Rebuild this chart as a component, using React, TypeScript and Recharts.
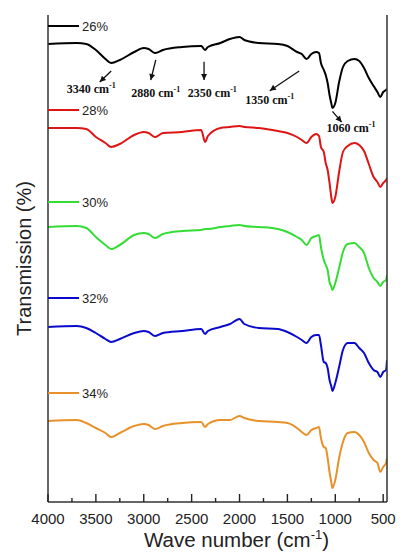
import React from "react";
import { LineChart, Line, XAxis, YAxis, ReferenceDot } from "recharts";

// wavenumber samples (cm-1)
const wavenumbers = [
  4000, 3700, 3600, 3500, 3400, 3340, 3250, 3100, 3000, 2950,
  2880, 2800, 2600, 2400, 2360, 2330, 2200, 2100, 2000, 1950,
  1800, 1600, 1500, 1400, 1350, 1300, 1250, 1200, 1170, 1150,
  1120, 1100, 1080, 1060, 1040, 1030, 1000, 960, 920, 870,
  800, 750, 700, 650, 600, 560, 530, 500, 470, 460,
];

// stacked transmission (offset, a.u.)
const t26 = [
  456, 457, 456, 450, 441, 437, 440, 448, 452, 451,
  447, 450, 453, 454, 450, 453, 457, 461, 463, 460,
  457, 456, 454, 448, 446, 441, 446, 448, 447, 437,
  430, 425, 417, 405, 396, 392, 397, 418, 433, 439,
  441, 439, 432, 422, 414, 408, 403, 408, 410, 411,
];
const t28 = [
  372, 372, 371, 363, 357, 353, 356, 365, 368, 367,
  363, 367, 368, 370, 358, 364, 372, 373, 374, 373,
  372, 369, 367, 363, 360, 357, 363, 366, 364, 353,
  348, 337, 330, 317, 302, 297, 303, 328, 348, 354,
  357, 355, 349, 336, 323, 318, 313, 317, 320, 322,
];
const t30 = [
  273, 274, 272, 263, 255, 251, 255, 265, 267, 266,
  262, 266, 269, 270, 271, 271, 273, 274, 275, 274,
  273, 271, 268, 263, 260, 255, 262, 264, 265, 253,
  240, 235, 230, 218, 213, 210, 217, 232, 248, 256,
  257, 253, 247, 232, 222, 218, 214, 218, 220, 225,
];
const t32 = [
  173, 174, 172, 167, 161, 158, 161, 167, 169, 168,
  164, 167, 169, 171, 166, 169, 173, 176, 181, 176,
  172, 171, 168, 163, 160, 157, 163, 165, 165, 155,
  138, 137, 132, 120, 113, 109, 117, 133, 150, 157,
  157, 152, 147, 137, 130, 128, 123, 128, 130, 140,
];
const t34 = [
  79, 80, 77, 72, 67, 63, 67, 74, 76, 75,
  71, 74, 77, 78, 73, 76, 80, 80, 84, 82,
  79, 78, 77, 72, 68, 65, 70, 72, 73, 62,
  53, 52, 42, 28, 17, 12, 20, 42, 58, 67,
  68, 65, 58, 47, 40, 37, 28, 33, 37, 42,
];

const seriesNames = ["26%", "28%", "30%", "32%", "34%"];
const seriesValues = [t26, t28, t30, t32, t34];

// peaks marked on the 26% spectrum
const peakLabels = ["3340", "2880", "2350", "1350", "1060"];
const peakAnchors = [3340, 2880, 2360, 1350, 1030];

const xTicks = [4000, 3750, 3500, 3250, 3000, 2750, 2500, 2250, 2000, 1750, 1500, 1250, 1000, 750, 500];

const colors = ["#000000", "#dd1515", "#33dd33", "#0a0acc", "#e8902a"];
const legendLevels = [474, 390, 298, 202, 107];
// arrow start, arrow end, label centre (pixel offsets from the anchor)
const peakLayout = [
  { a: [0, 8], b: [-11.5, 19], t: [-20, 30] },
  { a: [0.5, 7], b: [-4.5, 27], t: [0.5, 43.7] },
  { a: [-1, 11.7], b: [-1, 30], t: [7.3, 46.7] },
  { a: [-2.6, 17], b: [-32, 36.7], t: [-32, 50] },
  { a: [0, 3.3], b: [9.2, 14], t: [18.5, 24] },
];

const data = wavenumbers.map((w, i) => {
  const row: Record<string, number> = { w };
  seriesNames.forEach((n, k) => (row[n] = seriesValues[k][i]));
  return row;
});

const SANS = "'Liberation Sans', Arial, sans-serif";
const SERIF = "'Liberation Serif', 'Times New Roman', serif";
const frameLine = { stroke: "#333", strokeWidth: 1.5 };

function XTick({ x, y, payload }: any) {
  const major = payload.value % 500 === 0;
  return (
    <g>
      <line x1={x} x2={x} y1={y} y2={y - (major ? 8 : 4)} stroke="#222" strokeWidth={1.4} />
      {major && (
        <text x={x} y={y + 21.5} textAnchor="middle" fontSize={15} fill="#222" fontFamily={SANS}>
          {payload.value}
        </text>
      )}
    </g>
  );
}

function arrowHead(x1: number, y1: number, x2: number, y2: number) {
  const dx = x2 - x1, dy = y2 - y1;
  const len = Math.hypot(dx, dy) || 1;
  const ux = dx / len, uy = dy / len;
  const bx = x2 - ux * 6, by = y2 - uy * 6;
  return `${x2},${y2} ${bx + uy * 3},${by - ux * 3} ${bx - uy * 3},${by + ux * 3}`;
}

function PeakMark({ cx, cy, label, lay }: any) {
  const x1 = cx + lay.a[0], y1 = cy + lay.a[1];
  const x2 = cx + lay.b[0], y2 = cy + lay.b[1];
  return (
    <g>
      <line x1={x1} y1={y1} x2={x2} y2={y2} stroke="#111" strokeWidth={1.3} />
      <polygon points={arrowHead(x1, y1, x2, y2)} fill="#111" />
      <text x={cx + lay.t[0]} y={cy + lay.t[1]} textAnchor="middle" fontSize={12} fontWeight="bold" fontFamily={SERIF} fill="#111">
        {label} cm<tspan dy={-5} fontSize={8}>-1</tspan>
      </text>
    </g>
  );
}

function LegendMark({ cx, cy, name, color }: any) {
  return (
    <g>
      <line x1={cx} x2={cx + 31} y1={cy} y2={cy} stroke={color} strokeWidth={2} />
      <text x={cx + 34} y={cy} dy="0.35em" fontSize={13} fontFamily={SANS} fill="#222">
        {name}
      </text>
    </g>
  );
}

export default function App() {
  return (
    <div style={{ position: "absolute", left: 0, top: 0, background: "#fff" }}>
      <LineChart width={400} height={555} data={data} margin={{ top: 15, right: 12, bottom: 0, left: 0 }}>
        <XAxis
          dataKey="w"
          type="number"
          domain={[460, 4000]}
          allowDataOverflow
          reversed
          ticks={xTicks}
          interval={0}
          height={53}
          tickSize={0}
          tickMargin={0}
          tickLine={false}
          axisLine={frameLine}
          tick={<XTick />}
          label={{
            content: (p: any) => {
              const vb = p.viewBox;
              return (
                <text x={vb.x + vb.width / 2 + 19} y={vb.y + 45} textAnchor="middle" fontSize={20.5} fontFamily={SANS} fill="#222">
                  Wave number (cm<tspan dy={-8} fontSize={13}>-1</tspan>
                  <tspan dy={8}>)</tspan>
                </text>
              );
            },
          }}
        />
        <XAxis
          xAxisId="top"
          orientation="top"
          dataKey="w"
          type="number"
          domain={[460, 4000]}
          allowDataOverflow
          reversed
          height={0}
          tick={false}
          tickLine={false}
          axisLine={frameLine}
        />
        <YAxis
          type="number"
          domain={[-2, 485]}
          allowDataOverflow
          width={48}
          tick={false}
          tickLine={false}
          axisLine={frameLine}
          label={{
            value: "Transmission (%)",
            angle: -90,
            position: "center",
            fontSize: 20,
            fill: "#222",
            fontFamily: SANS,
            style: { textAnchor: "middle" },
          }}
        />
        <YAxis
          yAxisId="right"
          orientation="right"
          type="number"
          domain={[-2, 485]}
          allowDataOverflow
          width={1}
          tick={false}
          tickLine={false}
          axisLine={frameLine}
        />
        {seriesNames.map((n, k) => (
          <Line
            key={n}
            dataKey={n}
            type="monotone"
            stroke={colors[k]}
            strokeWidth={2}
            dot={false}
            isAnimationActive={false}
          />
        ))}
        {seriesNames.map((n, k) => (
          <ReferenceDot
            key={"lg" + n}
            x={4000}
            y={legendLevels[k]}
            ifOverflow="visible"
            shape={(p: any) => <LegendMark {...p} name={n} color={colors[k]} />}
          />
        ))}
        {peakLabels.map((lab, k) => (
          <ReferenceDot
            key={"pk" + lab}
            x={peakAnchors[k]}
            y={t26[wavenumbers.indexOf(peakAnchors[k])]}
            ifOverflow="visible"
            shape={(p: any) => <PeakMark {...p} label={lab} lay={peakLayout[k]} />}
          />
        ))}
      </LineChart>
    </div>
  );
}
